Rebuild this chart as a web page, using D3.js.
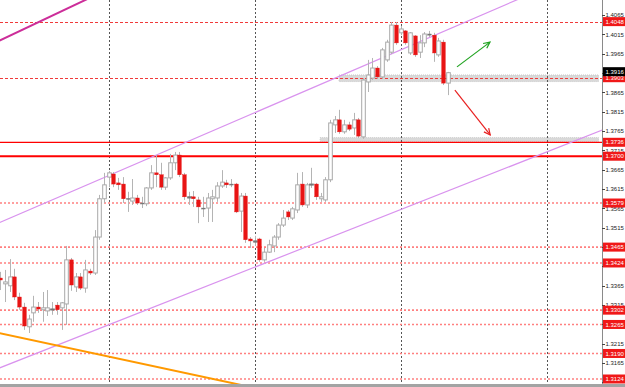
<!DOCTYPE html>
<html>
<head>
<meta charset="utf-8">
<script src="https://cdn.jsdelivr.net/npm/d3@7"></script>
<style>
  body { margin: 0; background: #fff; }
  svg { display: block; }
</style>
</head>
<body>
<div id="chart"></div>
<script>
// OHLC, one value per bar, left to right
const opens  = [1.3385,1.3370,1.3365,1.3388,1.3336,1.3310,1.3259,1.3295,1.3310,1.3303,1.3300,1.3304,1.3315,1.3308,1.3318,1.3432,1.3362,1.3388,1.3359,1.3403,1.3398,1.3491,1.3590,
                1.3646,1.3654,1.3631,1.3628,1.3591,1.3584,1.3592,1.3579,1.3577,1.3618,1.3657,1.3652,1.3620,1.3644,1.3683,1.3703,1.3652,1.3592,1.3595,1.3587,1.3566,1.3566,1.3590,1.3592,1.3623,1.3631,1.3628,1.3628,1.3558,1.3597,
                1.3486,1.3478,1.3486,1.3432,1.3452,1.3468,1.3491,1.3522,1.3556,1.3540,1.3561,1.3628,1.3574,1.3626,1.3628,1.3590,1.3587,1.3639,1.3781,1.3794,1.3763,1.3781,1.3773,1.3794,1.3750,1.3892,1.3902,1.3928,1.3905,1.3949,1.3969,1.4039,
                1.4019,1.4024,1.3967,1.4011,1.3969,1.3993,1.4016,1.4013,1.3962,1.3995,1.3889];
const highs  = [1.3401,1.3406,1.3434,1.3409,1.3347,1.3321,1.3290,1.3339,1.3323,1.3349,1.3354,1.3323,1.3323,1.3323,1.3468,1.3437,1.3398,1.3398,1.3432,1.3409,1.3509,1.3600,1.3657,
                1.3662,1.3659,1.3644,1.3646,1.3608,1.3641,1.3600,1.3595,1.3620,1.3677,1.3703,1.3683,1.3646,1.3706,1.3711,1.3711,1.3657,1.3608,1.3610,1.3595,1.3595,1.3605,1.3613,1.3633,1.3664,1.3639,1.3641,1.3631,1.3605,1.3605,
                1.3491,1.3494,1.3489,1.3463,1.3484,1.3496,1.3527,1.3561,1.3561,1.3569,1.3657,1.3659,1.3631,1.3670,1.3631,1.3605,1.3646,1.3794,1.3804,1.3820,1.3794,1.3789,1.3812,1.3799,1.3902,1.3949,1.3954,1.3933,1.3980,1.4001,1.4047,1.4047,
                1.4037,1.4026,1.4021,1.4013,1.4013,1.4021,1.4024,1.4019,1.4006,1.4001,1.3918];
const lows   = [1.3354,1.3323,1.3349,1.3328,1.3303,1.3251,1.3243,1.3272,1.3295,1.3272,1.3287,1.3290,1.3290,1.3251,1.3264,1.3352,1.3349,1.3354,1.3347,1.3393,1.3393,1.3484,1.3579,
                1.3620,1.3620,1.3613,1.3579,1.3556,1.3574,1.3574,1.3566,1.3571,1.3613,1.3620,1.3613,1.3613,1.3639,1.3664,1.3646,1.3587,1.3574,1.3569,1.3527,1.3543,1.3530,1.3530,1.3582,1.3618,1.3618,1.3620,1.3553,1.3504,1.3476,
                1.3463,1.3468,1.3427,1.3427,1.3450,1.3452,1.3484,1.3517,1.3535,1.3535,1.3553,1.3569,1.3566,1.3618,1.3587,1.3582,1.3582,1.3633,1.3760,1.3758,1.3758,1.3765,1.3755,1.3747,1.3745,1.3866,1.3897,1.3900,1.3900,1.3944,1.3964,1.3988,
                1.4013,1.3988,1.3962,1.3957,1.3954,1.3982,1.4008,1.3944,1.3957,1.3884,1.3858];
const closes = [1.3380,1.3375,1.3388,1.3336,1.3310,1.3261,1.3279,1.3310,1.3305,1.3308,1.3308,1.3305,1.3303,1.3321,1.3432,1.3367,1.3388,1.3359,1.3406,1.3398,1.3491,1.3590,1.3626,
                1.3657,1.3628,1.3626,1.3590,1.3590,1.3592,1.3579,1.3577,1.3618,1.3657,1.3652,1.3620,1.3644,1.3683,1.3703,1.3652,1.3595,1.3595,1.3590,1.3569,1.3564,1.3592,1.3595,1.3623,1.3633,1.3626,1.3627,1.3556,1.3597,1.3484,
                1.3481,1.3481,1.3432,1.3452,1.3471,1.3491,1.3522,1.3540,1.3543,1.3564,1.3626,1.3574,1.3626,1.3628,1.3595,1.3595,1.3639,1.3786,1.3794,1.3763,1.3781,1.3770,1.3794,1.3752,1.3897,1.3910,1.3928,1.3905,1.3975,1.3995,1.4039,1.3993,
                1.4029,1.3993,1.4019,1.3962,1.3993,1.4016,1.4013,1.3967,1.3998,1.3889,1.3916];

// right price axis
const priceTicks = [1.4065,1.4015,1.3965,1.3915,1.3865,1.3815,1.3765,1.3715,1.3665,1.3615,1.3565,1.3515,1.3465,1.3415,1.3365,1.3315,1.3265,1.3215,1.3165,1.3115];

// horizontal levels
const dashedLevelsTop = [1.4048, 1.3903];
const dashedLevels = [1.3579, 1.3465, 1.3424, 1.3302, 1.3265, 1.3190, 1.3124];
const solidLevels = [1.3736, 1.3700];

// vertical grid (bar index)
const gridBars = [23, 54, 85, 116];

// drawn objects, as [bar, price] pairs
const upperChannel = [[23, 1.3650], [85, 1.3975]];
const lowerChannel = [[23, 1.3264], [85, 1.3562]];
const orangeLine = [[23, 1.3182], [54, 1.3101]];
const magentaLine = [[0, 1.4000], [17, 1.4098]];
// zones: [startBar, endBar, topPrice, bottomPrice]
const zones = [[71.9, 127, 1.3910, 1.3893], [67.9, 127, 1.3748, 1.3738]];
const greenArrow = [[96.95, 1.3931], [103.95, 1.3995]];
const redArrow = [[96.5, 1.3871], [104, 1.3755]];

const width = 625, height = 387;
const plotRight = 602, plotBottom = 384;

const svg = d3.select("#chart").append("svg")
    .attr("width", width)
    .attr("height", height)
    .style("font-family", "'Liberation Sans', Arial, sans-serif");

svg.append("rect").attr("width", width).attr("height", height).attr("fill", "#ffffff");

const x = d3.scaleLinear().domain([0, 127]).range([0.37, 598.54]);
const y = d3.scaleLinear().domain([1.3124, 1.3903]).range([379, 77.7]);

svg.append("clipPath").attr("id", "plot")
  .append("rect").attr("width", plotRight).attr("height", plotBottom);

const plot = svg.append("g").attr("clip-path", "url(#plot)");

// zones (background)
plot.selectAll(".zone").data(zones).enter().append("rect")
    .attr("x", d => x(d[0]))
    .attr("y", d => y(d[2]))
    .attr("width", d => x(d[1]) - x(d[0]))
    .attr("height", d => y(d[3]) - y(d[2]))
    .attr("fill", "#d9d9d9")
    .attr("stroke", "#c8c8c8")
    .attr("stroke-dasharray", "1,1");

// vertical grid
plot.selectAll(".vgrid").data(gridBars).enter().append("line")
    .attr("x1", d => Math.round(x(d)) + 0.5).attr("x2", d => Math.round(x(d)) + 0.5)
    .attr("y1", 0).attr("y2", plotBottom)
    .attr("stroke", "#555").attr("stroke-dasharray", "2,2");

// levels
plot.selectAll(".lvl").data(dashedLevels).enter().append("line")
    .attr("x1", 0).attr("x2", plotRight)
    .attr("y1", d => y(d)).attr("y2", d => y(d))
    .attr("stroke", "#ff8080").attr("stroke-width", 1.6).attr("stroke-dasharray", "2,2");

plot.selectAll(".lvlTop").data(dashedLevelsTop).enter().append("line")
    .attr("x1", 0).attr("x2", plotRight)
    .attr("y1", d => Math.round(y(d)) + 0.5).attr("y2", d => Math.round(y(d)) + 0.5)
    .attr("stroke", "#f03a3a").attr("stroke-dasharray", "3,2");

plot.selectAll(".solid").data(solidLevels).enter().append("line")
    .attr("x1", 0).attr("x2", plotRight)
    .attr("y1", d => y(d)).attr("y2", d => y(d))
    .attr("stroke", "#ff0000").attr("stroke-width", (d, i) => i === 0 ? 1.3 : 2);

// trend lines extended across the plot
function extended(pts) {
    const [[b0, p0], [b1, p1]] = pts;
    const slope = (p1 - p0) / (b1 - b0);
    const bA = -5, bB = 140;
    return [[bA, p0 + slope * (bA - b0)], [bB, p0 + slope * (bB - b0)]];
}
const lineGen = d3.line().x(d => x(d[0])).y(d => y(d[1]));

plot.append("path").datum(extended(upperChannel)).attr("d", lineGen)
    .attr("fill", "none").attr("stroke", "#d993ee").attr("stroke-width", 1.2);
plot.append("path").datum(extended(lowerChannel)).attr("d", lineGen)
    .attr("fill", "none").attr("stroke", "#d993ee").attr("stroke-width", 1.2);
plot.append("path").datum(extended(orangeLine)).attr("d", lineGen)
    .attr("fill", "none").attr("stroke", "#ff9900").attr("stroke-width", 2);
plot.append("path").datum(extended(magentaLine)).attr("d", lineGen)
    .attr("fill", "none").attr("stroke", "#cc2d99").attr("stroke-width", 2);

// candles
const bars = opens.map((o, i) => ({ i, o, h: highs[i], l: lows[i], c: closes[i] }));
const bw = 3.6;

const candle = plot.selectAll(".candle").data(bars).enter().append("g");

candle.append("line")
    .attr("x1", d => Math.round(x(d.i)) + 0.5).attr("x2", d => Math.round(x(d.i)) + 0.5)
    .attr("y1", d => y(d.h)).attr("y2", d => y(d.l))
    .attr("stroke", "#b4b4b4");

candle.append("rect")
    .attr("x", d => Math.round(x(d.i)) + 0.5 - bw / 2)
    .attr("y", d => y(Math.max(d.o, d.c)))
    .attr("width", bw)
    .attr("height", d => Math.max(1, Math.abs(y(d.o) - y(d.c))))
    .attr("fill", d => {
        if (Math.abs(y(d.o) - y(d.c)) < 1.2) return "#777";
        return d.c >= d.o ? "#ffffff" : "#e81414";
    })
    .attr("stroke", d => {
        if (Math.abs(y(d.o) - y(d.c)) < 1.2) return "#777";
        return d.c >= d.o ? "#a8a8a8" : "#e81414";
    })
    .attr("stroke-width", d => (d.c >= d.o ? 1 : 0.4));

// arrows
function arrow(pts, color) {
    const [[b0, p0], [b1, p1]] = pts;
    const x0 = x(b0), y0 = y(p0), x1 = x(b1), y1 = y(p1);
    const a = Math.atan2(y1 - y0, x1 - x0);
    const len = 7, spread = 0.45;
    plot.append("line").attr("x1", x0).attr("y1", y0).attr("x2", x1).attr("y2", y1)
        .attr("stroke", color).attr("stroke-width", 1.2);
    plot.append("path")
        .attr("d", `M${x1 - len * Math.cos(a - spread)},${y1 - len * Math.sin(a - spread)}L${x1},${y1}L${x1 - len * Math.cos(a + spread)},${y1 - len * Math.sin(a + spread)}`)
        .attr("fill", "none").attr("stroke", color).attr("stroke-width", 1.2);
}
arrow(greenArrow, "#1fa31f");
arrow(redArrow, "#e82020");

// price axis
svg.append("line")
    .attr("x1", plotRight + 0.5).attr("x2", plotRight + 0.5)
    .attr("y1", 0).attr("y2", plotBottom)
    .attr("stroke", "#8a8a8a");

// a tick label that sits right under a tag is hidden by it
const levelLabels = dashedLevelsTop.concat(solidLevels, dashedLevels);
const last = closes[closes.length - 1];
const tagged = levelLabels.concat([last]);
const shownTicks = priceTicks.filter(t => !tagged.some(p => Math.abs(y(p) - y(t)) < 4));

const axis = svg.append("g");
axis.selectAll(".tick").data(priceTicks).enter().append("line")
    .attr("x1", plotRight).attr("x2", plotRight + 3)
    .attr("y1", d => Math.round(y(d)) + 0.5).attr("y2", d => Math.round(y(d)) + 0.5)
    .attr("stroke", "#444");
axis.selectAll(".tlabel").data(shownTicks).enter().append("text")
    .attr("x", 605.5).attr("y", d => y(d) + 2.2)
    .attr("font-size", "6px").attr("fill", "#222")
    .text(d => d.toFixed(4));

// level tags
const tag = svg.selectAll(".tag").data(levelLabels).enter().append("g")
    .attr("transform", d => `translate(603,${y(d)})`);
tag.append("rect").attr("x", 0).attr("y", -4.5).attr("width", 22).attr("height", 9).attr("fill", "#f01818");
tag.append("text").attr("x", 2.5).attr("y", 2.2)
    .attr("font-size", "6px").attr("fill", "#fff")
    .text(d => d.toFixed(4));

// current price
const cur = svg.append("g").attr("transform", `translate(603,${y(last) - 1})`);
cur.append("rect").attr("x", 0).attr("y", -4.5).attr("width", 22).attr("height", 9).attr("fill", "#000");
cur.append("text").attr("x", 2.5).attr("y", 2.2)
    .attr("font-size", "6px").attr("fill", "#fff")
    .text(last.toFixed(4));

// bottom strip (time axis cut off)
svg.append("rect").attr("x", 0).attr("y", plotBottom).attr("width", width).attr("height", height - plotBottom)
    .attr("fill", "#a3a3a3");
</script>
</body>
</html>
